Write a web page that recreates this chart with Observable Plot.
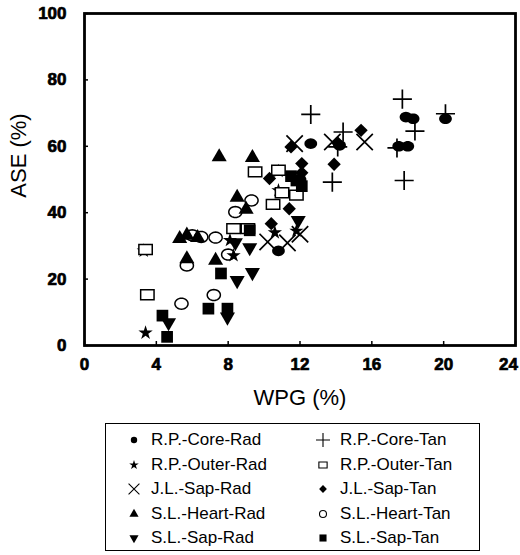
<!DOCTYPE html>
<html><head><meta charset="utf-8">
<script src="https://cdn.jsdelivr.net/npm/d3@7"></script>
<script src="https://cdn.jsdelivr.net/npm/@observablehq/plot@0.6"></script>
<style>
body{margin:0;background:#fff;font-family:"Liberation Sans",Arial,sans-serif;}
#wrap{position:relative;width:520px;height:555px;}
#legend{position:absolute;left:105px;top:423px;width:375px;height:128px;border:1px solid #000;box-sizing:border-box;}
.item{position:absolute;font-size:17px;height:20px;line-height:20px;white-space:nowrap;display:flex;align-items:center;color:#000;}
.item svg{margin-right:10px;}
</style></head><body><div id="wrap"><div id="chart"></div><div id="legend"></div></div>
<script>
// ---- data (WPG %, ASE %) ----
const seriesNames = ["R.P.-Core-Rad","R.P.-Core-Tan","R.P.-Outer-Rad","R.P.-Outer-Tan","J.L.-Sap-Rad","J.L.-Sap-Tan","S.L.-Heart-Rad","S.L.-Heart-Tan","S.L.-Sap-Rad","S.L.-Sap-Tan"];
const coreRadX = [17.5, 18.0, 17.9, 18.3, 20.1, 12.6, 14.2, 10.8, 12.0];
const coreRadY = [60.0, 60.0, 68.8, 68.3, 68.3, 60.8, 60.3, 28.5, 50.0];
const coreTanX = [17.7, 12.6, 20.1, 18.4, 14.4, 17.8, 13.8, 17.4, 14.1];
const coreTanY = [74.2, 69.6, 69.8, 64.6, 64.3, 49.7, 49.2, 59.5, 59.8];
const outerRadX = [3.4, 3.3, 10.8, 8.3, 11.8, 10.6, 8.1, 10.8, 12.0];
const outerRadY = [3.8, 28.5, 46.7, 27.1, 34.5, 34.0, 31.7, 52.5, 48.5];
const outerTanX = [3.5, 3.4, 9.5, 10.8, 11.8, 10.5, 8.3, 9.1, 11.0];
const outerTanY = [15.3, 28.9, 52.3, 52.8, 45.3, 42.5, 35.2, 35.2, 46.0];
const jlRadX = [15.6, 11.7, 13.8, 10.2, 11.3, 12.0];
const jlRadY = [61.3, 60.8, 61.3, 31.2, 30.9, 33.5];
const jlTanX = [15.4, 13.9, 11.5, 12.1, 11.4, 10.4, 10.3, 12.1, 14.1];
const jlTanY = [64.8, 54.6, 59.8, 54.8, 41.2, 36.7, 50.3, 52.0, 61.0];
const heartRadX = [7.5, 9.35, 8.5, 5.7, 5.3, 6.3, 5.7, 7.3, 9.0];
const heartRadY = [56.8, 56.6, 44.6, 33.2, 32.2, 32.5, 26.1, 25.6, 41.0];
const heartTanX = [5.4, 8.4, 9.3, 5.7, 6.0, 6.5, 7.3, 8.0, 7.2];
const heartTanY = [12.6, 40.2, 43.7, 24.1, 33.2, 32.7, 32.5, 27.4, 15.2];
const sapRadX = [11.9, 9.35, 8.5, 9.2, 7.96, 4.68, 8.4];
const sapRadY = [37.7, 22.0, 19.6, 29.5, 8.6, 6.9, 31.0];
const sapTanX = [4.6, 4.34, 7.6, 6.9, 7.96, 9.2, 11.8, 11.5, 12.1];
const sapTanY = [2.6, 9.0, 21.7, 11.1, 11.1, 34.7, 49.7, 51.0, 48.0];
const xTicks = [0, 4, 8, 12, 16, 20, 24];
const yTicks = [0, 20, 40, 60, 80, 100];

// ---- symbols ----
const sqrt3 = Math.sqrt(3);
const triangleDown = {draw(ctx, size) {
  const y = -Math.sqrt(size / (sqrt3 * 3));
  ctx.moveTo(0, -y * 2); ctx.lineTo(-sqrt3 * y, y); ctx.lineTo(sqrt3 * y, y); ctx.closePath();
}};
const rectSym = {draw(ctx, size) {
  const w = Math.sqrt(size * 1.35), h = size / w;
  ctx.rect(-w / 2, -h / 2, w, h);
}};
const ellipseSym = {draw(ctx, size) {
  const ry = Math.sqrt(size / Math.PI / 1.2), rx = ry * 1.2;
  ctx.moveTo(rx, 0);
  for (let k = 1; k <= 32; k++) { const a = k / 32 * 2 * Math.PI; ctx.lineTo(rx * Math.cos(a), ry * Math.sin(a)); }
  ctx.closePath();
}};

const xs = [coreRadX, coreTanX, outerRadX, outerTanX, jlRadX, jlTanX, heartRadX, heartTanX, sapRadX, sapTanX];
const ys = [coreRadY, coreTanY, outerRadY, outerTanY, jlRadY, jlTanY, heartRadY, heartTanY, sapRadY, sapTanY];
const styles = [
  {symbol: ellipseSym, fill: "black", stroke: "none", r: 5.8},
  {symbol: "plus", fill: "none", stroke: "black", strokeWidth: 1.7, r: 6.2},
  {symbol: "star", fill: "black", stroke: "none", r: 4.5},
  {symbol: rectSym, fill: "white", stroke: "black", strokeWidth: 1.5, r: 6.5},
  {symbol: "times", fill: "none", stroke: "black", strokeWidth: 1.7, r: 7.5},
  {symbol: "diamond2", fill: "black", stroke: "none", r: 6},
  {symbol: "triangle", fill: "black", stroke: "none", r: 5.6},
  {symbol: ellipseSym, fill: "none", stroke: "black", strokeWidth: 1.5, r: 6},
  {symbol: triangleDown, fill: "black", stroke: "none", r: 5.6},
  {symbol: "square", fill: "black", stroke: "none", r: 6.6}
];
const dotMarks = seriesNames.map((name, i) => {
  const rows = xs[i].map((x, j) => ({series: name, wpg: x, ase: ys[i][j]}));
  return Plot.dot(rows, {x: "wpg", y: "ase", ...styles[i]});
});

const lastX = xTicks[xTicks.length - 1];
const chart = Plot.plot({
  width: 520, height: 410,
  marginLeft: 84, marginRight: 5, marginTop: 13, marginBottom: 65,
  style: {fontFamily: "'Liberation Sans', Arial, sans-serif", background: "white", color: "black"},
  x: {domain: [0, 24]},
  y: {domain: [0, 100]},
  marks: [
    ...dotMarks,
    Plot.axisX({ticks: xTicks, tickSize: -4, tickFormat: () => "", strokeWidth: 1.5, label: null}),
    Plot.axisY({ticks: yTicks, tickSize: -4, tickFormat: () => "", strokeWidth: 1.5, label: null}),
    Plot.axisX({ticks: xTicks.slice(0, -1), tickSize: 0, tickPadding: 12, fontSize: 17, label: null}),
    Plot.axisX({ticks: [lastX], tickSize: 0, tickPadding: 12, fontSize: 17, dx: -7, label: null}),
    Plot.axisY({ticks: yTicks, tickSize: 0, tickPadding: 18, fontSize: 17, label: null}),
    Plot.frame({strokeWidth: 2.8}),
    Plot.text(["WPG (%)"], {text: d => d, frameAnchor: "bottom", dy: 52, lineAnchor: "middle", fontSize: 22}),
    Plot.text(["ASE (%)"], {text: d => d, frameAnchor: "left", dx: -66, dy: -24, rotate: -90, lineAnchor: "middle", textAnchor: "middle", fontSize: 22})
  ]
});
d3.select(chart).selectAll('g[aria-label$="tick label"]')
  .attr("font-weight", "bold")
  .style("font-weight", "bold")
  .style("stroke", "black")
  .style("stroke-width", "0.7px");
document.getElementById("chart").appendChild(chart);

// ---- legend ----
const legend = d3.select("#legend");
const symType = [d3.symbolCircle, d3.symbolPlus, d3.symbolStar, rectSym, d3.symbolTimes, d3.symbolDiamond2, d3.symbolTriangle, d3.symbolCircle, triangleDown, d3.symbolSquare];
const legendR = [3.2, 5, 3, 4, 5, 3.5, 3.4, 3.5, 3.4, 4];
seriesNames.forEach((name, i) => {
  const col = i % 2, row = Math.floor(i / 2);
  const cx = col === 0 ? 28 : 217;
  const cy = [17, 42, 66, 91, 115][row];
  const item = legend.append("div").attr("class", "item")
    .style("left", (cx - 7) + "px").style("top", (cy - 11) + "px");
  const svg = item.append("svg").attr("width", 14).attr("height", 14);
  const st = styles[i];
  svg.append("path")
    .attr("transform", "translate(7,7)")
    .attr("d", d3.symbol(symType[i], Math.PI * legendR[i] * legendR[i])())
    .attr("fill", st.fill).attr("stroke", st.stroke)
    .attr("stroke-width", st.strokeWidth ? 1.1 : null);
  item.append("span").text(name);
});
</script></body></html>
